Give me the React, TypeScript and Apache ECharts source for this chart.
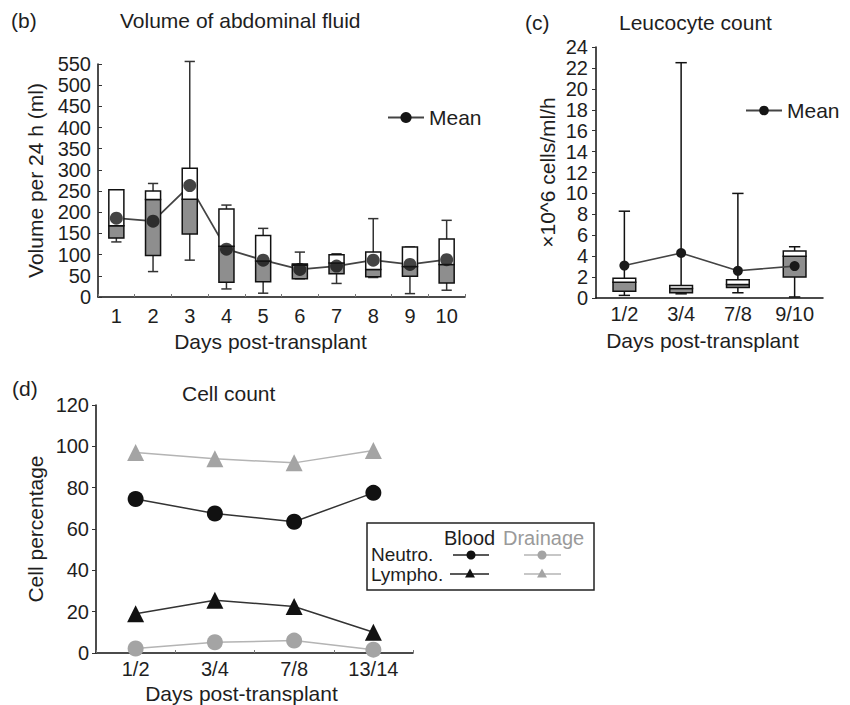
import React, { useEffect, useRef } from "react";
import * as echarts from "echarts";

// Panel (b): volume of abdominal fluid (ml per 24 h)
const daysB = ["1", "2", "3", "4", "5", "6", "7", "8", "9", "10"];
const volMin = [130, 60, 87, 19, 9, 43, 32, 46, 8, 16];
const volQ1 = [139, 98, 149, 35, 36, 43, 55, 48, 49, 33];
const volMedian = [168, 230, 231, 120, 85, 75, 80, 65, 72, 77];
const volQ3 = [253, 250, 304, 208, 145, 78, 100, 106, 118, 137];
const volMax = [253, 268, 556, 217, 162, 106, 102, 185, 118, 181];
const volMean = [186, 179, 263, 113, 87, 65, 73, 87, 77, 88];

// Panel (c): leucocyte count (x10^6 cells/ml/h)
const daysC = ["1/2", "3/4", "7/8", "9/10"];
const leuMin = [0.25, 0.4, 0.5, 0.1];
const leuQ1 = [0.65, 0.5, 1.0, 2.0];
const leuMedian = [1.5, 0.9, 1.3, 4.0];
const leuQ3 = [1.9, 1.2, 1.75, 4.5];
const leuMax = [8.3, 22.5, 10.0, 4.9];
const leuMean = [3.1, 4.3, 2.6, 3.05];

// Panel (d): cell percentage
const daysD = ["1/2", "3/4", "7/8", "13/14"];
const bloodNeutro = [74.5, 67.5, 63.5, 77.5];
const bloodLympho = [19, 25.5, 22.5, 10];
const drainNeutro = [2.2, 5.2, 6, 1.6];
const drainLympho = [97, 94, 92, 98];

const FONT = "'Liberation Sans', Arial, Helvetica, sans-serif";
const INK = "#1e1e1e";
const GREY_FILL = "#8e8e8e";
const DRAIN = "#a4a4a4";

function boxData(mn: number[], q1: number[], md: number[], q3: number[], mx: number[]) {
  return mn.map((v, i) => [i, v, q1[i], md[i], q3[i], mx[i]]);
}

function makeRenderBox(boxFrac: number, capFrac: number, whiskerColor: string) {
  return (_params: any, api: any) => {
    const x = api.value(0);
    const lo = api.coord([x, api.value(1)]);
    const q1 = api.coord([x, api.value(2)]);
    const md = api.coord([x, api.value(3)]);
    const q3 = api.coord([x, api.value(4)]);
    const hi = api.coord([x, api.value(5)]);
    const band = api.size([1, 0])[0];
    const w = band * boxFrac;
    const cw = band * capFrac;
    const cx = lo[0];
    const ws = { stroke: whiskerColor, lineWidth: 1.5 };
    return {
      type: "group",
      children: [
        { type: "line", shape: { x1: cx, y1: hi[1], x2: cx, y2: lo[1] }, style: ws },
        { type: "line", shape: { x1: cx - cw / 2, y1: hi[1], x2: cx + cw / 2, y2: hi[1] }, style: ws },
        { type: "line", shape: { x1: cx - cw / 2, y1: lo[1], x2: cx + cw / 2, y2: lo[1] }, style: ws },
        {
          type: "rect",
          shape: { x: cx - w / 2, y: md[1], width: w, height: q1[1] - md[1] },
          style: { fill: GREY_FILL, stroke: "#111", lineWidth: 1.5 },
        },
        {
          type: "rect",
          shape: { x: cx - w / 2, y: q3[1], width: w, height: md[1] - q3[1] },
          style: { fill: "#ffffff", stroke: "#111", lineWidth: 1.5 },
        },
      ],
    };
  };
}

const axisLineStyle = { lineStyle: { color: "#111", width: 1.5 } };
const labelStyle = { fontSize: 20, color: INK, fontFamily: FONT };
const nameStyle = { fontSize: 21, color: INK, fontFamily: FONT };

export default function App() {
  const ref = useRef<HTMLDivElement>(null);

  useEffect(() => {
    if (!ref.current) return;
    const chart = echarts.init(ref.current, undefined, { renderer: "svg" });

    const titleBase = { padding: 0, textStyle: { fontSize: 21, fontWeight: "normal", color: INK, fontFamily: FONT } };

    const tri = (cx: number, cy: number, s: number) => [
      [cx, cy - s * 0.6],
      [cx - s * 0.55, cy + s * 0.4],
      [cx + s * 0.55, cy + s * 0.4],
    ];

    const option: any = {
      animation: false,
      backgroundColor: "#ffffff",
      textStyle: { fontFamily: FONT },
      title: [
        { ...titleBase, text: "(b)", left: 11, top: 10 },
        { ...titleBase, text: "Volume of abdominal fluid", left: 120, top: 10 },
        { ...titleBase, text: "(c)", left: 525, top: 12 },
        { ...titleBase, text: "Leucocyte count", left: 619, top: 12 },
        { ...titleBase, text: "(d)", left: 12, top: 378 },
        { ...titleBase, text: "Cell count", left: 182, top: 383 },
      ],
      legend: [
        {
          data: ["Mean"],
          left: 387,
          top: 107,
          padding: 0,
          itemWidth: 36,
          itemHeight: 14,
          itemGap: 7,
          selectedMode: false,
          textStyle: nameStyle,
        },
        {
          data: ["Mean"],
          left: 745,
          top: 100,
          padding: 0,
          itemWidth: 36,
          itemHeight: 12,
          itemGap: 5,
          selectedMode: false,
          textStyle: nameStyle,
        },
      ],
      grid: [
        { left: 98, top: 64, width: 367, height: 233 },
        { left: 596, top: 47, width: 227, height: 251 },
        { left: 96, top: 405, width: 317, height: 248 },
      ],
      xAxis: [
        {
          gridIndex: 0,
          type: "category",
          data: daysB,
          axisLine: axisLineStyle,
          axisTick: { show: true, inside: true, length: 3, lineStyle: { color: "#777" } },
          axisLabel: { ...labelStyle, margin: 9 },
          name: "Days post-transplant",
          nameLocation: "middle",
          nameGap: 34,
          nameTextStyle: { ...nameStyle, padding: [0, 22, 0, 0] },
        },
        {
          gridIndex: 1,
          type: "category",
          data: daysC,
          axisLine: axisLineStyle,
          axisTick: { show: false },
          axisLabel: { ...labelStyle, margin: 6 },
          name: "Days post-transplant",
          nameLocation: "middle",
          nameGap: 32,
          nameTextStyle: { ...nameStyle, padding: [0, 14, 0, 0] },
        },
        {
          gridIndex: 2,
          type: "category",
          data: daysD,
          axisLine: axisLineStyle,
          axisTick: { show: true, inside: true, length: 3, lineStyle: { color: "#777" } },
          axisLabel: { ...labelStyle, margin: 6 },
          name: "Days post-transplant",
          nameLocation: "middle",
          nameGap: 30,
          nameTextStyle: { ...nameStyle, padding: [0, 26, 0, 0] },
        },
      ],
      yAxis: [
        {
          gridIndex: 0,
          type: "value",
          min: 0,
          max: 550,
          interval: 50,
          axisLine: { show: true, ...axisLineStyle },
          axisTick: { show: true, inside: true, length: 4, lineStyle: { color: "#333" } },
          axisLabel: { ...labelStyle, margin: 7 },
          splitLine: { show: false },
          name: "Volume per 24 h (ml)",
          nameLocation: "middle",
          nameGap: 52,
          nameTextStyle: nameStyle,
        },
        {
          gridIndex: 1,
          type: "value",
          min: 0,
          max: 24,
          interval: 2,
          axisLine: { show: true, ...axisLineStyle },
          axisTick: { show: true, length: 4, lineStyle: { color: "#333" } },
          axisLabel: { ...labelStyle, margin: 8 },
          splitLine: { show: false },
          name: "×10^6 cells/ml/h",
          nameLocation: "middle",
          nameGap: 38,
          nameTextStyle: nameStyle,
        },
        {
          gridIndex: 2,
          type: "value",
          min: 0,
          max: 120,
          interval: 20,
          axisLine: { show: true, ...axisLineStyle },
          axisTick: { show: true, length: 4, lineStyle: { color: "#333" } },
          axisLabel: { ...labelStyle, margin: 7 },
          splitLine: { show: false },
          name: "Cell percentage",
          nameLocation: "middle",
          nameGap: 50,
          nameTextStyle: nameStyle,
        },
      ],
      series: [
        // Panel (b)
        {
          name: "Mean",
          type: "line",
          xAxisIndex: 0,
          yAxisIndex: 0,
          data: volMean,
          z: 1,
          symbol: "circle",
          symbolSize: 13,
          itemStyle: { color: "#151515" },
          lineStyle: { color: "#444", width: 1.8 },
        },
        {
          type: "custom",
          xAxisIndex: 0,
          yAxisIndex: 0,
          z: 2,
          renderItem: makeRenderBox(0.41, 0.28, "#333"),
          encode: { x: 0, y: [1, 2, 3, 4, 5] },
          data: boxData(volMin, volQ1, volMedian, volQ3, volMax),
        },
        {
          type: "scatter",
          xAxisIndex: 0,
          yAxisIndex: 0,
          z: 3,
          data: volMean,
          symbol: "circle",
          symbolSize: 13,
          itemStyle: { color: "#151515" },
        },
        // Panel (c)
        {
          type: "custom",
          xAxisIndex: 1,
          yAxisIndex: 1,
          z: 2,
          renderItem: makeRenderBox(0.4, 0.2, "#111"),
          encode: { x: 0, y: [1, 2, 3, 4, 5] },
          data: boxData(leuMin, leuQ1, leuMedian, leuQ3, leuMax),
        },
        {
          name: "Mean",
          type: "line",
          xAxisIndex: 1,
          yAxisIndex: 1,
          data: leuMean,
          z: 3,
          symbol: "circle",
          symbolSize: 10,
          itemStyle: { color: "#1a1a1a" },
          lineStyle: { color: "#444", width: 1.6 },
        },
        // Panel (d)
        {
          name: "Blood Neutro.",
          type: "line",
          xAxisIndex: 2,
          yAxisIndex: 2,
          data: bloodNeutro,
          symbol: "circle",
          symbolSize: 16,
          itemStyle: { color: "#111" },
          lineStyle: { color: "#333", width: 1.5 },
        },
        {
          name: "Blood Lympho.",
          type: "line",
          xAxisIndex: 2,
          yAxisIndex: 2,
          data: bloodLympho,
          symbol: "triangle",
          symbolSize: 17,
          itemStyle: { color: "#111" },
          lineStyle: { color: "#333", width: 1.5 },
        },
        {
          name: "Drainage Neutro.",
          type: "line",
          xAxisIndex: 2,
          yAxisIndex: 2,
          data: drainNeutro,
          symbol: "circle",
          symbolSize: 16,
          itemStyle: { color: DRAIN },
          lineStyle: { color: "#b4b4b4", width: 1.5 },
        },
        {
          name: "Drainage Lympho.",
          type: "line",
          xAxisIndex: 2,
          yAxisIndex: 2,
          data: drainLympho,
          symbol: "triangle",
          symbolSize: 17,
          itemStyle: { color: DRAIN },
          lineStyle: { color: "#b4b4b4", width: 1.5 },
        },
      ],
      graphic: [
        {
          type: "group",
          z: 100,
          children: [
            {
              type: "rect",
              shape: { x: 367, y: 523, width: 227, height: 67 },
              style: { fill: "#fff", stroke: "#222", lineWidth: 1.5 },
            },
            { type: "text", x: 444, y: 538, style: { text: "Blood", fontSize: 20, fill: INK, fontFamily: FONT, verticalAlign: "middle" } },
            { type: "text", x: 503, y: 538, style: { text: "Drainage", fontSize: 20, fill: "#9a9a9a", fontFamily: FONT, verticalAlign: "middle" } },
            { type: "text", x: 371, y: 554, style: { text: "Neutro.", fontSize: 19, fill: INK, fontFamily: FONT, verticalAlign: "middle" } },
            { type: "text", x: 371, y: 574, style: { text: "Lympho.", fontSize: 19, fill: INK, fontFamily: FONT, verticalAlign: "middle" } },
            { type: "line", shape: { x1: 453, y1: 555, x2: 489, y2: 555 }, style: { stroke: "#222", lineWidth: 1.5 } },
            { type: "circle", shape: { cx: 471, cy: 555, r: 4.5 }, style: { fill: "#111" } },
            { type: "line", shape: { x1: 450, y1: 574, x2: 489, y2: 574 }, style: { stroke: "#222", lineWidth: 1.5 } },
            { type: "polygon", shape: { points: tri(470, 574, 9) }, style: { fill: "#111" } },
            { type: "line", shape: { x1: 524, y1: 555, x2: 561, y2: 555 }, style: { stroke: "#b4b4b4", lineWidth: 1.5 } },
            { type: "circle", shape: { cx: 542, cy: 555, r: 4.5 }, style: { fill: DRAIN } },
            { type: "line", shape: { x1: 524, y1: 574, x2: 561, y2: 574 }, style: { stroke: "#b4b4b4", lineWidth: 1.5 } },
            { type: "polygon", shape: { points: tri(542, 574, 9) }, style: { fill: DRAIN } },
          ],
        },
      ],
    };

    chart.setOption(option);
    return () => chart.dispose();
  }, []);

  return (
    <div
      ref={ref}
      style={{ position: "fixed", left: 0, top: 0, width: 850, height: 705, background: "#fff" }}
    />
  );
}
